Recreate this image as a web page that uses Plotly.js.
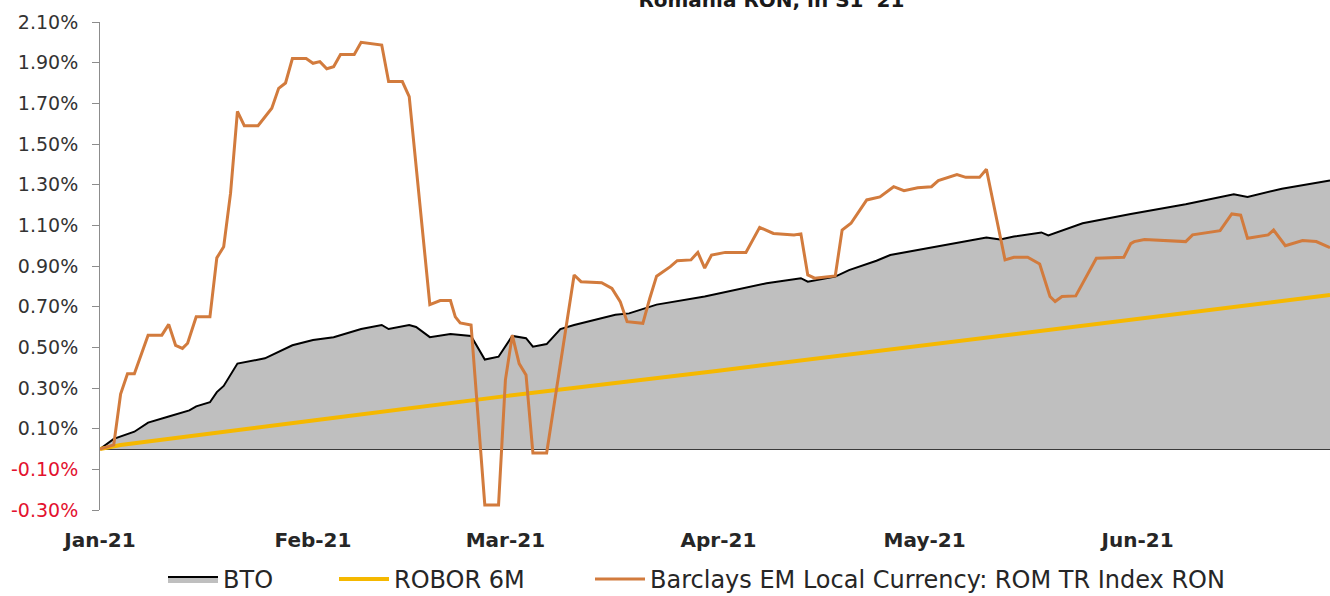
<!DOCTYPE html>
<html>
<head>
<meta charset="utf-8">
<script src="https://cdn.plot.ly/plotly-3.0.1.min.js"></script>
<style>
  html, body { margin: 0; padding: 0; background: #ffffff; }
  #chart { width: 1330px; height: 596px; }
</style>
</head>
<body>
<div id="chart"></div>
<script>
// ---------------- DATA ----------------
const chartTitle = "Romania RON, in S1 '21";

const seriesNames = ["BTO", "ROBOR 6M", "Barclays EM Local Currency: ROM TR Index RON"];

const btoDates = ['2021-01-01','2021-01-03','2021-01-06','2021-01-08','2021-01-11','2021-01-14','2021-01-15','2021-01-17','2021-01-18','2021-01-19','2021-01-21','2021-01-25','2021-01-29','2021-02-01','2021-02-04','2021-02-08','2021-02-11','2021-02-12','2021-02-15','2021-02-16','2021-02-18','2021-02-21','2021-02-24','2021-02-26','2021-02-28','2021-03-02','2021-03-04','2021-03-05','2021-03-07','2021-03-09','2021-03-11','2021-03-17','2021-03-19','2021-03-23','2021-03-30','2021-04-08','2021-04-13','2021-04-14','2021-04-18','2021-04-20','2021-04-24','2021-04-26','2021-05-10','2021-05-12','2021-05-14','2021-05-18','2021-05-19','2021-05-24','2021-05-31','2021-06-08','2021-06-15','2021-06-17','2021-06-22','2021-06-29'];
const btoValues = [0,0.05,0.085,0.13,0.16,0.19,0.21,0.23,0.28,0.31,0.42,0.446,0.51,0.536,0.55,0.59,0.61,0.59,0.61,0.60,0.55,0.565,0.556,0.44,0.454,0.556,0.545,0.503,0.516,0.59,0.61,0.66,0.667,0.71,0.75,0.815,0.84,0.823,0.848,0.88,0.926,0.954,1.04,1.03,1.045,1.065,1.05,1.11,1.156,1.204,1.253,1.24,1.28,1.32];

const roborDates = ['2021-01-01','2021-01-04','2021-02-01','2021-03-01','2021-04-01','2021-05-01','2021-06-01','2021-06-29'];
const roborValues = [0,0.02,0.14,0.26,0.385,0.51,0.64,0.757];

const barclaysDates = ['2021-01-01','2021-01-03','2021-01-04','2021-01-05','2021-01-06','2021-01-08','2021-01-10','2021-01-11','2021-01-12','2021-01-13','2021-01-13 18:00','2021-01-15','2021-01-17','2021-01-18','2021-01-19','2021-01-20','2021-01-21','2021-01-22','2021-01-24','2021-01-25','2021-01-26','2021-01-27','2021-01-28','2021-01-29','2021-01-31','2021-02-01','2021-02-02','2021-02-03','2021-02-04','2021-02-05','2021-02-07','2021-02-08','2021-02-11','2021-02-12','2021-02-14','2021-02-15','2021-02-18','2021-02-19 12:00','2021-02-21','2021-02-21 17:00','2021-02-22 10:00','2021-02-24','2021-02-26','2021-02-28','2021-03-01','2021-03-02','2021-03-03','2021-03-04','2021-03-05','2021-03-07','2021-03-11','2021-03-12','2021-03-15','2021-03-16 12:00','2021-03-17 17:00','2021-03-18 17:00','2021-03-21','2021-03-22','2021-03-23','2021-03-25','2021-03-26','2021-03-28','2021-03-29','2021-03-30','2021-03-31','2021-04-02','2021-04-05','2021-04-07','2021-04-09','2021-04-12','2021-04-13','2021-04-14','2021-04-15','2021-04-18','2021-04-19','2021-04-20 07:00','2021-04-22 14:00','2021-04-24 12:00','2021-04-26 12:00','2021-04-28','2021-04-30','2021-05-02','2021-05-03','2021-05-05 17:00','2021-05-07','2021-05-09','2021-05-10','2021-05-12 17:00','2021-05-14','2021-05-16','2021-05-17 18:00','2021-05-19 06:00','2021-05-20','2021-05-21','2021-05-23','2021-05-26','2021-05-30','2021-05-31','2021-05-31 12:00','2021-06-02','2021-06-08','2021-06-09','2021-06-13','2021-06-14 17:00','2021-06-16','2021-06-17','2021-06-20','2021-06-20 19:00','2021-06-22 12:00','2021-06-25','2021-06-27','2021-06-29'];
const barclaysValues = [0,0.02,0.27,0.37,0.37,0.56,0.56,0.613,0.51,0.495,0.52,0.65,0.65,0.94,0.995,1.258,1.66,1.59,1.59,1.635,1.676,1.774,1.80,1.92,1.92,1.897,1.905,1.87,1.88,1.94,1.94,2.00,1.987,1.807,1.807,1.733,0.71,0.73,0.73,0.65,0.62,0.61,-0.275,-0.275,0.34,0.56,0.42,0.364,-0.02,-0.02,0.856,0.823,0.818,0.79,0.725,0.626,0.618,0.74,0.85,0.897,0.926,0.93,0.967,0.89,0.954,0.967,0.967,1.09,1.06,1.053,1.058,0.856,0.84,0.851,1.077,1.11,1.225,1.24,1.29,1.27,1.285,1.29,1.32,1.35,1.336,1.336,1.376,0.93,0.943,0.943,0.91,0.75,0.725,0.75,0.753,0.938,0.943,1.01,1.02,1.03,1.02,1.053,1.074,1.156,1.15,1.036,1.053,1.077,1.0,1.025,1.02,0.99];

const monthTickDates = ['2021-01-01','2021-02-01','2021-03-01','2021-04-01','2021-05-01','2021-06-01'];
const monthTickLabels = ['Jan-21','Feb-21','Mar-21','Apr-21','May-21','Jun-21'];

const yTickValues = [2.1,1.9,1.7,1.5,1.3,1.1,0.9,0.7,0.5,0.3,0.1,-0.1,-0.3];
const yTickLabels = ['2.10%','1.90%','1.70%','1.50%','1.30%','1.10%','0.90%','0.70%','0.50%','0.30%','0.10%','-0.10%','-0.30%'];

// ---------------- STYLE ----------------
const FONT = 'DejaVu Sans, Verdana, sans-serif';
const C_FILL = '#bfbfbf';
const C_YELLOW = '#f5b800';
const C_ORANGE = '#d27b3d';
const C_NEG = '#e3122f';

const yTickTextStyled = yTickLabels.map((t, i) =>
  yTickValues[i] < 0 ? '<span style="color:' + C_NEG + '">' + t + '</span>' : t);

const traces = [
  {
    type: 'scatter', mode: 'lines', name: seriesNames[0],
    x: btoDates, y: btoValues,
    fill: 'tozeroy', fillcolor: C_FILL,
    line: { color: '#000000', width: 2 },
    legend: 'legend'
  },
  {
    type: 'scatter', mode: 'lines', name: seriesNames[1],
    x: roborDates, y: roborValues,
    line: { color: C_YELLOW, width: 4 },
    legend: 'legend2'
  },
  {
    type: 'scatter', mode: 'lines', name: seriesNames[2],
    x: barclaysDates, y: barclaysValues,
    line: { color: C_ORANGE, width: 3 },
    legend: 'legend3'
  }
];

const legendCommon = {
  orientation: 'h', yanchor: 'middle', xanchor: 'left',
  xref: 'container', yref: 'container', y: 0.028,
  itemwidth: 50,
  font: { family: FONT, size: 24, color: '#262626' },
  bgcolor: 'rgba(0,0,0,0)', borderwidth: 0
};

const layout = {
  width: 1330, height: 596,
  paper_bgcolor: '#ffffff', plot_bgcolor: '#ffffff',
  margin: { l: 100, r: 0, t: 22, b: 86 },
  showlegend: true,
  title: {
    text: chartTitle,
    font: { family: FONT, size: 20, color: '#1a1a1a', weight: 'bold' },
    xref: 'container', yref: 'container', x: 0.58, xanchor: 'center', y: 1, yanchor: 'middle'
  },
  xaxis: {
    type: 'date',
    range: ['2021-01-01', '2021-06-29'],
    tickvals: monthTickDates, ticktext: monthTickLabels,
    showgrid: false, zeroline: false, showline: false,
    ticks: 'outside', ticklen: 0, tickcolor: 'rgba(0,0,0,0)',
    ticklabelstandoff: 12,
    tickfont: { family: FONT, size: 20, color: '#262626', weight: 'bold' }
  },
  xaxis2: {
    type: 'date', overlaying: 'x', anchor: 'free', position: 0.125,
    range: ['2021-01-01', '2021-06-29'],
    tickvals: monthTickDates,
    showticklabels: false, showgrid: false, zeroline: false, showline: false,
    ticks: 'outside', ticklen: 6, tickcolor: '#9a9a9a', tickwidth: 1
  },
  yaxis: {
    range: [-0.3, 2.1],
    tickvals: yTickValues, ticktext: yTickTextStyled,
    showgrid: false,
    zeroline: true, zerolinecolor: '#3a3a3a', zerolinewidth: 2,
    showline: true, linecolor: '#8c8c8c', linewidth: 1,
    ticks: 'outside', ticklen: 7, tickcolor: '#8c8c8c',
    ticklabelstandoff: 10,
    tickfont: { family: FONT, size: 19, color: '#333333' }
  },
  legend: Object.assign({}, legendCommon, { x: 163 / 1330 }),
  legend2: Object.assign({}, legendCommon, { x: 334 / 1330 }),
  legend3: Object.assign({}, legendCommon, { x: 590 / 1330 })
};

Plotly.newPlot('chart', traces, layout, { staticPlot: true, displayModeBar: false });
</script>
</body>
</html>
